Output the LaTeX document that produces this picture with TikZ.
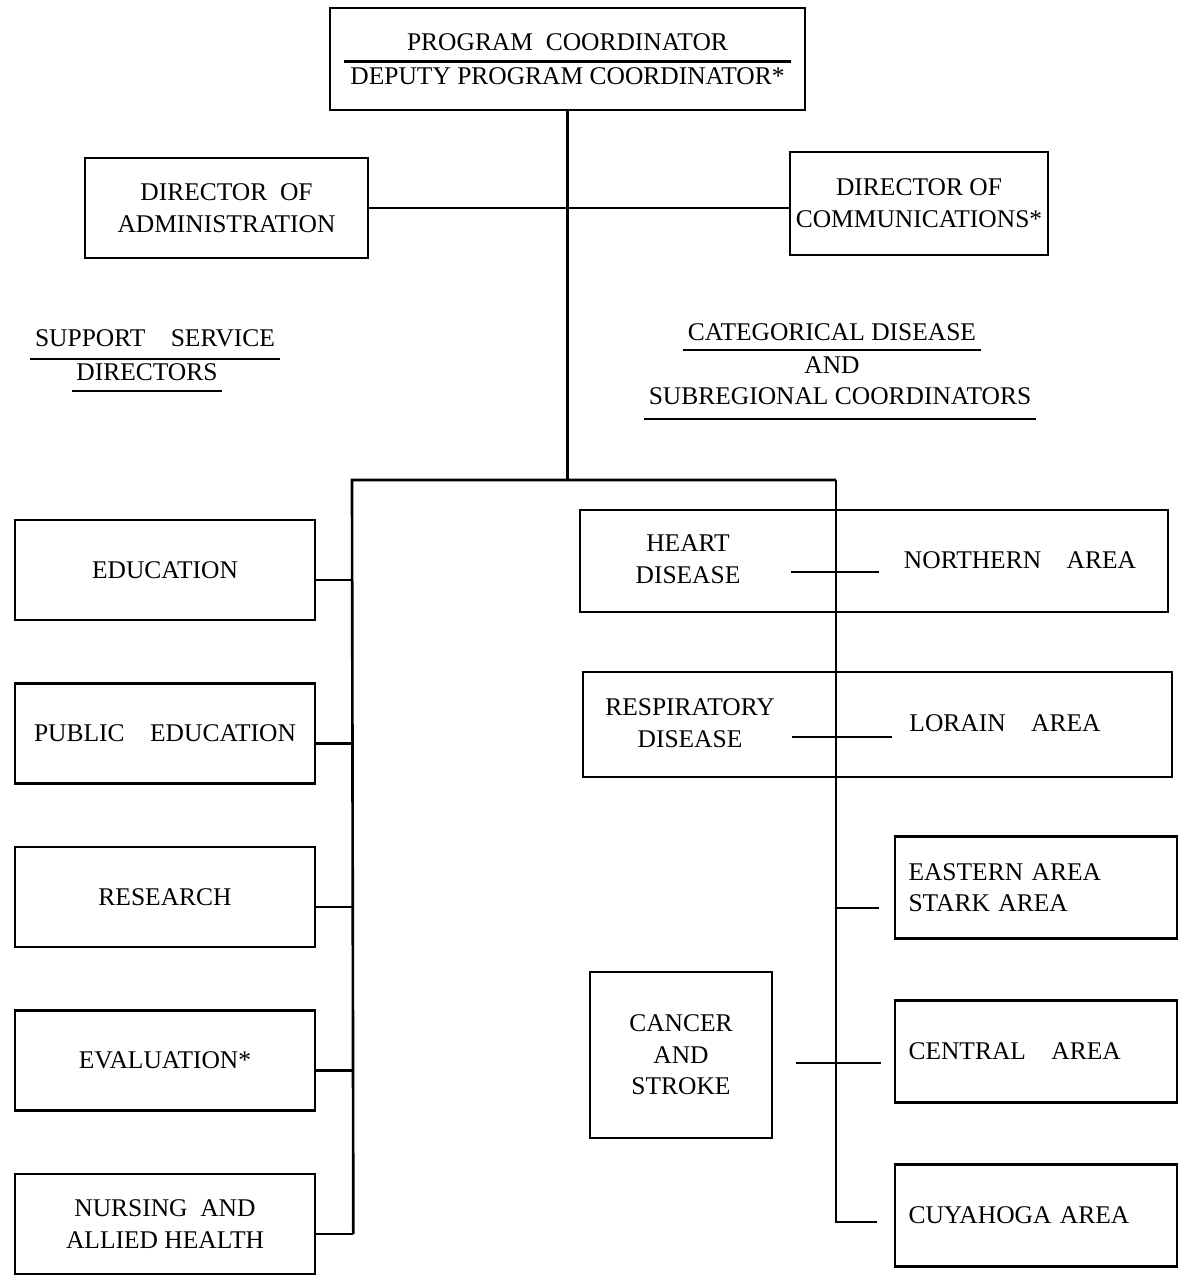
\documentclass[tikz,border=0pt]{standalone}
\usepackage{fontspec}
\setmainfont{Liberation Serif}
\usepackage{tikz}
\usetikzlibrary{positioning}
\tikzstyle{block} = [draw, rectangle, line width=1.5pt, align=center,
    inner sep=2pt, minimum height=2cm, minimum width=6cm]
\tikzstyle{areablock} = [block, minimum width=5.64cm, minimum height=2.04cm,
    text width=5.1cm, align=left]
\tikzstyle{heading} = [inner sep=2pt, align=center]
\tikzstyle{rule} = [line width=1.2pt]

\begin{document}
\begin{tikzpicture}[font=\fontsize{14.5}{18}\selectfont, line width=1.5pt,
        node distance=3.28cm]
        \useasboundingbox (0,0) rectangle (23.58,-25.52);

        % coordinator and directors
        \node[block, minimum width=9.5cm, minimum height=2.04cm] (prog) at (11.35,-1.18)
            {PROGRAM\ \ COORDINATOR\\[1pt]DEPUTY PROGRAM COORDINATOR*};
        \draw[rule] ([shift={(0.3,-0.05)}]prog.west) -- ([shift={(-0.3,-0.05)}]prog.east);

        \node[block, minimum width=5.66cm] (admin) at (4.53,-4.16)
            {DIRECTOR\ \ OF\\ADMINISTRATION};
        \node[block, minimum width=5.16cm, minimum height=2.06cm] (comm) at (18.38,-4.07)
            {DIRECTOR OF\\COMMUNICATIONS*};
        \draw (admin.east) -- (admin.east -| comm.west);

        % headings
        \node[heading] (sup1) at (3.1,-6.76) {SUPPORT\quad SERVICE};
        \node[heading] (sup2) at (2.94,-7.44) {DIRECTORS};
        \node[heading] (cat1) at (16.64,-6.64) {CATEGORICAL DISEASE};
        \node[heading] (cat2) at (16.64,-7.3) {AND};
        \node[heading] (cat3) at (16.8,-7.92) {SUBREGIONAL COORDINATORS};
        \draw[rule] ([yshift=-1.5mm]sup1.south west) -- ([yshift=-1.5mm]sup1.south east);
        \draw[rule] ([yshift=-1.2mm]sup2.south west) -- ([yshift=-1.2mm]sup2.south east);
        \draw[rule] ([yshift=-1mm]cat1.south west) -- ([yshift=-1mm]cat1.south east);
        \draw[rule] ([yshift=-2mm]cat3.south west) -- ([yshift=-2mm]cat3.south east);

        % support service directors
        \node[block] (edu) at (3.3,-11.4) {EDUCATION};
        \node[block, below of=edu, node distance=3.27cm] (pub) {PUBLIC\quad EDUCATION};
        \node[block, below of=pub, node distance=3.27cm] (res) {RESEARCH};
        \node[block, below of=res, node distance=3.27cm] (eval) {EVALUATION*};
        \node[block, below of=eval, node distance=3.27cm] (nurs) {NURSING\ \ AND\\ALLIED HEALTH};

        % disease and area coordinators
        \node[block, minimum width=11.76cm, minimum height=2.04cm] (hrow) at (17.48,-11.22) {};
        \node[heading] (heart) at (13.76,-11.18) {HEART\\DISEASE};
        \node[heading] (north) at (20.4,-11.2) {NORTHERN\quad AREA};

        \node[block, minimum width=11.78cm, minimum height=2.1cm] (rrow) at (17.55,-14.49) {};
        \node[heading] (resp) at (13.8,-14.46) {RESPIRATORY\\DISEASE};
        \node[heading] (lorain) at (20.1,-14.46) {LORAIN\quad AREA};

        \node[areablock] (eastern) at (20.72,-17.75) {EASTERN AREA\\STARK AREA};
        \node[areablock, below of=eastern] (central) {CENTRAL\quad AREA};
        \node[areablock, below of=central] (cuya) {CUYAHOGA AREA};

        \node[block, minimum width=3.64cm, minimum height=3.32cm] (cancer) at (13.62,-21.1)
            {CANCER\\AND\\STROKE};

        % connections
        \coordinate (barL) at (7.04,-9.6);
        \coordinate (barR) at (16.72,-9.6);
        \draw (prog.south) -- (prog.south |- barL);
        \draw (barR) -- (barL) -- ([shift={(0.74,-0.2)}]nurs.east);
        \foreach \n in {edu,pub,res,eval,nurs}
            \draw ([yshift=-2mm]\n.east) -- ++(0.74,0);
        \draw (barR) |- ([shift={(-0.34,-0.13)}]cuya.west);
        \draw ([shift={(0.92,-0.26)}]heart.east) -- ++(1.76,0);
        \draw ([shift={(0.25,-0.28)}]resp.east) -- ++(2.0,0);
        \draw ([shift={(-0.3,-0.41)}]eastern.west) -- ++(-0.88,0);
        \draw ([shift={(0.46,-0.16)}]cancer.east) -- ++(1.7,0);
    \end{tikzpicture}
\end{document}
